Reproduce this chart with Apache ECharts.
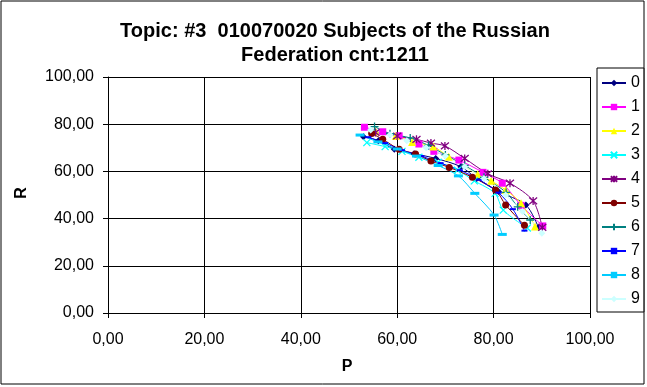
<!DOCTYPE html>
<html>
<head>
<meta charset="utf-8">
<script src="https://cdn.jsdelivr.net/npm/echarts@6/dist/echarts.min.js"></script>
<style>
  body { margin: 0; background: #fff; }
  #chart { width: 647px; height: 387px; }
</style>
</head>
<body>
<div id="chart"></div>
<script>
// P / R pairs per topic run
const s0 = [[53.0, 74.7], [56.1, 73.0], [59.4, 69.4], [63.5, 67.5], [68.0, 65.5], [73.2, 62.0], [76.5, 57.0], [81.0, 51.5], [86.7, 45.8], [89.3, 36.3]];
const s1 = [[53.2, 78.7], [57.0, 76.8], [60.4, 75.1], [64.5, 71.6], [67.6, 68.5], [72.8, 64.8], [77.8, 59.6], [81.8, 55.0], [85.7, 45.6], [90.2, 36.9]];
const s2 = [[55.5, 77.0], [59.7, 75.0], [63.1, 72.5], [67.5, 70.5], [70.7, 66.2], [76.7, 58.8], [79.5, 56.0], [82.5, 52.1], [85.7, 46.5], [88.6, 36.6]];
const s3 = [[53.7, 72.2], [57.5, 70.5], [61.0, 68.5], [64.5, 66.0], [68.5, 63.9], [72.5, 60.5], [76.0, 56.0], [80.3, 50.7], [82.0, 43.6], [87.0, 36.0]];
const s4 = [[55.5, 76.5], [60.0, 75.0], [64.0, 73.6], [67.0, 72.0], [69.9, 70.8], [74.0, 65.5], [78.8, 59.0], [83.4, 55.0], [88.2, 47.5], [90.1, 36.3]];
const s5 = [[54.7, 76.1], [57.0, 73.6], [60.4, 69.4], [63.8, 67.4], [67.0, 64.4], [70.8, 61.7], [75.6, 57.5], [80.4, 52.1], [82.5, 45.8], [86.4, 37.2]];
const s6 = [[55.3, 79.0], [58.5, 76.0], [62.7, 74.2], [66.5, 71.0], [70.0, 67.0], [74.0, 62.5], [78.0, 57.5], [82.6, 51.1], [85.0, 45.0], [87.6, 39.4]];
const s7 = [[54.0, 74.5], [57.5, 72.0], [61.0, 69.0], [65.0, 66.5], [69.0, 63.5], [73.0, 60.5], [77.0, 56.5], [81.0, 51.0], [84.0, 44.0], [86.4, 34.9]];
const s8 = [[52.3, 75.4], [56.0, 72.5], [60.0, 69.5], [64.0, 66.5], [68.5, 62.5], [72.7, 58.1], [76.1, 50.7], [80.1, 41.5], [81.8, 33.3]];
const s9 = [[54.5, 77.5], [58.5, 75.5], [62.0, 73.0], [66.0, 70.0], [70.0, 66.5], [74.0, 62.0], [78.0, 57.0], [82.5, 50.0], [86.0, 43.0], [90.0, 33.8]];

const names = ['0', '1', '2', '3', '4', '5', '6', '7', '8', '9'];
const runs = [s0, s1, s2, s3, s4, s5, s6, s7, s8, s9];
const colors = ['#000080', '#FF00FF', '#FFFF00', '#00FFFF', '#800080', '#800000', '#008080', '#0000FF', '#00CCFF', '#CCFFFF'];
const axisTicks = [0, 20, 40, 60, 80, 100];

const FONT = '"Liberation Sans", Arial, sans-serif';

// excel style markers
const markers = [
  { symbol: 'diamond', size: 7 },
  { symbol: 'rect', size: 7 },
  { symbol: 'triangle', size: 8 },
  { symbol: 'path://M0,0L10,10M10,0L0,10', size: 7, stroke: true },
  { symbol: 'path://M0,0L10,10M10,0L0,10M5,-1L5,11', size: 8, stroke: true },
  { symbol: 'circle', size: 7 },
  { symbol: 'path://M5,0L5,10M0,5L10,5', size: 8, stroke: true },
  { symbol: 'rect', size: [6, 2] },
  { symbol: 'rect', size: [9, 3] },
  { symbol: 'diamond', size: 7 }
];

const fmt = v => v.toFixed(2).replace('.', ',');

const chart = echarts.init(document.getElementById('chart'), null, { renderer: 'canvas' });

const series = runs.map((run, i) => ({
  name: names[i],
  type: 'line',
  data: run,
  smooth: 0.3,
  symbol: markers[i].symbol,
  symbolSize: markers[i].size,
  showAllSymbol: true,
  animation: false,
  lineStyle: { color: colors[i], width: 1 },
  itemStyle: {
    color: colors[i],
    borderColor: colors[i],
    borderWidth: markers[i].stroke ? 1.3 : 0
  }
}));

const option = {
  backgroundColor: '#fff',
  animation: false,
  textStyle: { fontFamily: FONT },
  grid: { left: 108, right: 57, top: 77, bottom: 74 },
  xAxis: {
    type: 'value',
    min: axisTicks[0],
    max: axisTicks[axisTicks.length - 1],
    interval: 20,
    axisLine: { lineStyle: { color: '#000', width: 1 } },
    axisTick: { show: true, length: 5, lineStyle: { color: '#000' } },
    axisLabel: { formatter: fmt, color: '#000', fontSize: 16, margin: 19, fontFamily: FONT },
    splitLine: { lineStyle: { color: '#000', width: 1 } }
  },
  yAxis: {
    type: 'value',
    min: axisTicks[0],
    max: axisTicks[axisTicks.length - 1],
    interval: 20,
    axisLine: { show: true, lineStyle: { color: '#000', width: 1 } },
    axisTick: { show: true, length: 5, lineStyle: { color: '#000' } },
    axisLabel: { formatter: fmt, color: '#000', fontSize: 16, margin: 14, fontFamily: FONT },
    splitLine: { lineStyle: { color: '#000', width: 1 } }
  },
  legend: {
    orient: 'vertical',
    left: 597,
    top: 68,
    data: names,
    itemWidth: 24,
    itemHeight: 8,
    itemGap: 8,
    padding: [7, 4, 5, 4],
    borderColor: '#000',
    borderWidth: 1,
    backgroundColor: '#fff',
    textStyle: { fontSize: 16, lineHeight: 16, color: '#000', fontFamily: FONT }
  },
  graphic: [
    {
      type: 'rect',
      shape: { x: 1, y: 1, width: 643, height: 383 },
      style: { fill: 'none', stroke: '#000', lineWidth: 1 },
      silent: true
    },
    {
      type: 'text', x: 335, y: 31,
      style: { text: 'Topic: #3  010070020 Subjects of the Russian', textAlign: 'center', textVerticalAlign: 'middle', font: 'bold 20px ' + FONT, fill: '#000' }
    },
    {
      type: 'text', x: 335, y: 55,
      style: { text: 'Federation cnt:1211', textAlign: 'center', textVerticalAlign: 'middle', font: 'bold 20px ' + FONT, fill: '#000' }
    },
    {
      type: 'text', x: 347, y: 367,
      style: { text: 'P', textAlign: 'center', textVerticalAlign: 'middle', font: 'bold 16px ' + FONT, fill: '#000' }
    },
    {
      type: 'text', x: 22, y: 193, rotation: Math.PI / 2,
      style: { text: 'R', textAlign: 'center', textVerticalAlign: 'middle', font: 'bold 16px ' + FONT, fill: '#000' }
    }
  ],
  series: series
};

chart.setOption(option);
</script>
</body>
</html>
